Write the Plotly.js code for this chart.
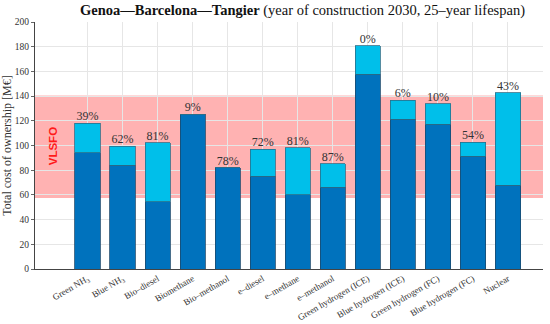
<!DOCTYPE html>
<html><head><meta charset="utf-8">
<script src="https://cdn.plot.ly/plotly-3.0.1.min.js"></script>
<style>html,body{margin:0;padding:0;background:#fff}#c{width:550px;height:324px}</style>
</head><body><div id="c"></div>
<script>
const categories = ["Green NH<sub>3</sub>","Blue NH<sub>3</sub>","Bio–diesel","Biomethane","Bio–methanol","e–diesel","e–methane","e–methanol","Green hydrogen (ICE)","Blue hydrogen (ICE)","Green hydrogen (FC)","Blue hydrogen (FC)","Nuclear"];
const baseCost = [94.2, 84, 54.6, 125.5, 82.1, 75, 60.2, 66.2, 157.6, 121.2, 117.2, 91.5, 67.8];
const totalCost = [118, 99.3, 102.3, 125.5, 82.1, 96.9, 98.3, 85.3, 180.6, 136.6, 133.9, 102.8, 142.8];
const pctLabels = ["39%","62%","81%","9%","78%","72%","81%","87%","0%","6%","10%","54%","43%"];
const vlsfoLow = 57.5, vlsfoHigh = 140.5;

const idx = categories.map((_, i) => i);
const extra = totalCost.map((t, i) => Math.max(0, +(t - baseCost[i]).toFixed(2)));
const serif = "Liberation Serif, Times New Roman, serif";

const traces = [
  {type:"bar", x:idx, y:baseCost, width:0.72, marker:{color:"#0072BD", line:{color:"#1a4a6e", width:0.8}}, hoverinfo:"skip"},
  {type:"bar", x:idx, y:extra, width:0.72, marker:{color:"#00BFEA", line:{color:"#2a6f8a", width:0.8}}, hoverinfo:"skip"},
  {type:"scatter", mode:"text", x:idx, y:totalCost, text:pctLabels, textposition:"top center",
   textfont:{family:serif, size:12, color:"#333"}, hoverinfo:"skip", cliponaxis:false}
];

const layout = {
  width:550, height:324, barmode:"stack", showlegend:false,
  margin:{l:35, r:7, t:22, b:55},
  paper_bgcolor:"#fff", plot_bgcolor:"#fff",
  title:{text:"<b>Genoa—Barcelona—Tangier</b> (year of construction 2030, 25–year lifespan)",
         font:{family:serif, size:14.5, color:"#111"}, x:0.55, xanchor:"center", y:0.97, yanchor:"middle"},
  xaxis:{range:[-1.5, 13], tickvals:idx, ticktext:categories, tickangle:-30,
         tickfont:{family:serif, size:9, color:"#333"}, showgrid:true, gridcolor:"#e6e6e6",
         showline:true, linecolor:"#444", linewidth:1, zeroline:false, ticks:"", fixedrange:true},
  yaxis:{range:[0, 200], dtick:20, tickfont:{family:serif, size:9.5, color:"#333"},
         showgrid:true, gridcolor:"#e6e6e6", showline:true, linecolor:"#444", linewidth:1,
         ticks:"outside", ticklen:3, tickcolor:"#666", zeroline:false,
         title:{text:"Total cost of ownership [M€]", font:{family:serif, size:12, color:"#333"}, standoff:3}},
  shapes:[{type:"rect", xref:"paper", yref:"y", x0:0, x1:1, y0:vlsfoLow, y1:vlsfoHigh,
           fillcolor:"rgba(255,0,0,0.3)", line:{width:0}, layer:"below"}],
  annotations:[{x:-1, y:(vlsfoLow+vlsfoHigh)/2, xref:"x", yref:"y", text:"<b>VLSFO</b>", textangle:-90,
                showarrow:false, font:{family:"Liberation Sans, Arial, sans-serif", size:11.5, color:"#ff1a1a"}}]
};
Plotly.newPlot("c", traces, layout, {displayModeBar:false, staticPlot:true});
</script></body></html>
